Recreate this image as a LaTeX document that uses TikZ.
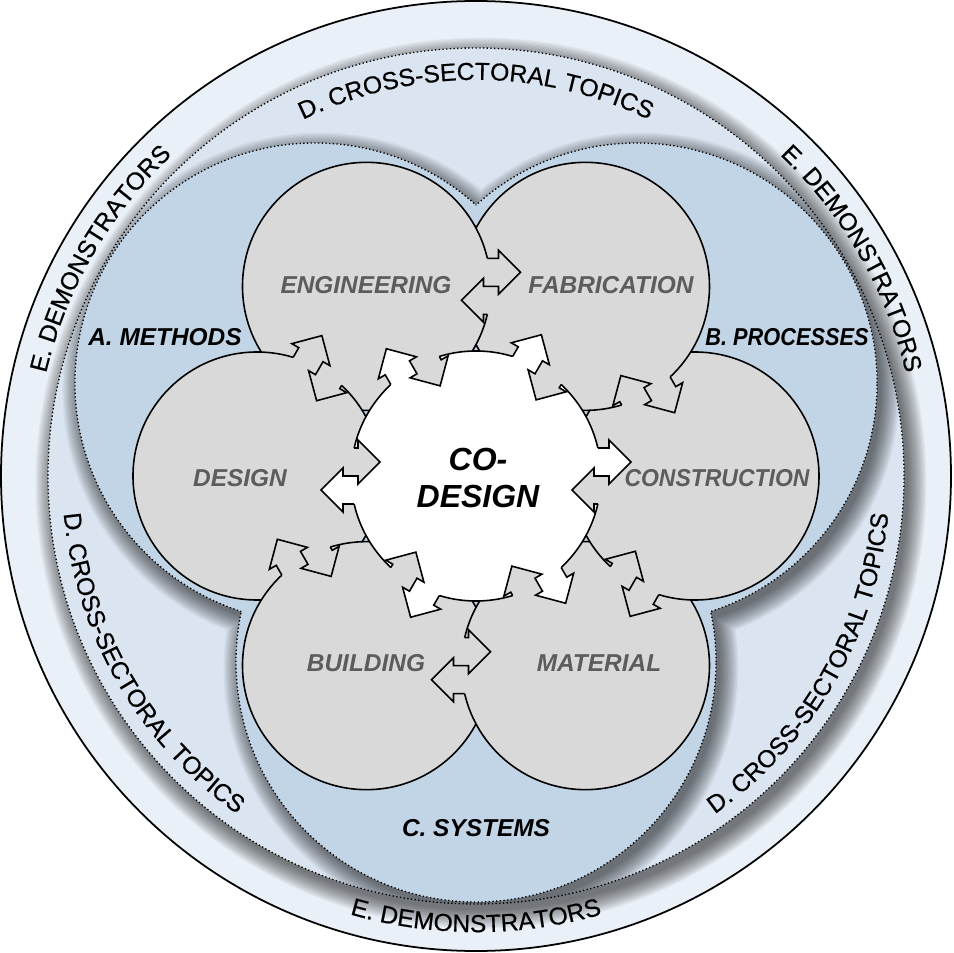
\documentclass[tikz,border=0pt]{standalone}
\usepackage{fontspec}
\usepackage{graphicx}
\newfontfamily\arial{Liberation Sans}
\newfontfamily\ringfont[FakeBold=0.5]{Liberation Sans}
\usetikzlibrary{calc,decorations.text}

\definecolor{ringE}{RGB}{234,240,247}
\definecolor{ringD}{RGB}{219,229,241}
\definecolor{lobe}{RGB}{194,213,231}
\definecolor{petal}{RGB}{217,217,217}
\definecolor{petaltext}{RGB}{92,92,92}

\newcommand{\labelfont}{\arial\fontsize{13.9}{16}\selectfont}
\newcommand{\arcfont}{\ringfont\fontsize{14}{16}\selectfont}

% pair of interlocking arrows on the rim of a circle
% #1 centre, #2 radius, #3 direction, #4 own fill, #5 other fill
\newcommand{\arrowpair}[5]{%
  \begin{scope}[shift={($(#1)+(#3:#2)$)}, rotate=#3]
    \pgfmathsetmacro{\gapx}{sqrt(#2*#2-28*28)-#2}
    \fill[#4] (-8,0) -- (-8,28) -- (8,28) -- (8,36) -- (30,14) -- (8,-8) -- (8,0) -- cycle;
    \fill[#5] (6,0) -- (6,-28) -- (-7,-28) -- (-7,-36) -- (-29,-14) -- (-7,8) -- (-7,0) -- cycle;
    \draw[edge] (\gapx,28) -- (8,28) -- (8,36) -- (30,14) -- (8,-8) -- (8,0) -- (-7,0)
      -- (-7,8) -- (-29,-14) -- (-7,-36) -- (-7,-28) -- (\gapx,-28);
  \end{scope}}

\begin{document}
\begin{tikzpicture}[
    x=0.02cm, y=0.02cm,
    edge/.style={draw=black, line width=0.9pt, line join=miter},
    petalbox/.style={fill=petal, draw=black, line width=0.9pt},
    dots/.style={draw=black, line width=0.75pt, dash pattern=on 0.75pt off 1.35pt},
    petallabel/.style={font=\labelfont\bfseries\itshape, text=petaltext},
    arealabel/.style={font=\labelfont\bfseries\itshape},
    ringtext/.style={decorate, decoration={text along path, text align=center, text={|\arcfont|#1}}}
]
    \useasboundingbox (-476,-477) rectangle (477,476);

    % Centres
    \coordinate (hub) at (0,0);
    \coordinate (tA) at (150:186);
    \coordinate (tB) at (30:186);
    \coordinate (tC) at (270:186);
    \coordinate (con) at (0:219);
    \coordinate (fab) at (60:219);
    \coordinate (eng) at (120:219);
    \coordinate (des) at (180:219);
    \coordinate (bld) at (240:219);
    \coordinate (mat) at (300:219);

    % E ring and shadow of D
    \fill[ringE] (hub) circle (475);
    \begin{scope}
        \clip (hub) circle (475);
        \foreach \k in {1,...,15}
            \fill[black, opacity=0.045] (5,-7) circle (426+1.3*\k);
    \end{scope}

    % D ring and shadow of the lobes
    \fill[ringD] (hub) circle (428);
    \draw[dots] (hub) circle (428);
    \begin{scope}
        \clip (hub) circle (428);
        \foreach \k in {1,...,15}
            \fill[black, opacity=0.045] ($(tA)+(5,-7)$) circle (238+1.3*\k)
                ($(tB)+(5,-7)$) circle (238+1.3*\k) ($(tC)+(5,-7)$) circle (238+1.3*\k);
    \end{scope}

    % Lobes A, B, C
    \fill[lobe] (tA) circle (240) (tB) circle (240) (tC) circle (240);
    \begin{scope}[even odd rule]
        \clip (-500,-500) rectangle (500,500) (tB) circle (240) (tC) circle (240);
        \draw[dots] (tA) circle (240);
    \end{scope}
    \begin{scope}[even odd rule]
        \clip (-500,-500) rectangle (500,500) (tA) circle (240) (tC) circle (240);
        \draw[dots] (tB) circle (240);
    \end{scope}
    \begin{scope}[even odd rule]
        \clip (-500,-500) rectangle (500,500) (tA) circle (240) (tB) circle (240);
        \draw[dots] (tC) circle (240);
    \end{scope}

    \draw[black, line width=1pt] (hub) circle (475);

    % Ring texts
    \path[ringtext={D. CROSS-SECTORAL TOPICS}] (160:396) arc[start angle=160, end angle=20, radius=396];
    \path[ringtext={D. CROSS-SECTORAL TOPICS}] (140:414) arc[start angle=140, end angle=280, radius=414];
    \path[ringtext={D. CROSS-SECTORAL TOPICS}] (260:414) arc[start angle=260, end angle=400, radius=414];
    \path[ringtext={E. DEMONSTRATORS}] (220:442) arc[start angle=220, end angle=80, radius=442];
    \path[ringtext={E. DEMONSTRATORS}] (100:442) arc[start angle=100, end angle=-40, radius=442];
    \path[ringtext={E. DEMONSTRATORS}] (200:456) arc[start angle=200, end angle=340, radius=456];

    \node[arealabel] (methods) at (-311,139) {A. METHODS};
    \node[arealabel] (processes) at (311,139) {\scalebox{0.89}[1]{B. PROCESSES}};
    \node[arealabel] (systems) at (0,-352) {C. SYSTEMS};

    % Petals (each one lies over its clockwise neighbour)
    \draw[petalbox] (eng) circle (124);
    \draw[petalbox] (des) circle (124);
    \draw[petalbox] (bld) circle (124);
    \draw[petalbox] (mat) circle (124);
    \draw[petalbox] (con) circle (124);
    \draw[petalbox] (fab) circle (124);
    \begin{scope}
        \clip (fab) circle (127);
        \draw[petalbox] (eng) circle (124);
    \end{scope}

    \arrowpair{eng}{124}{0}{petal}{petal}
    \arrowpair{fab}{124}{-60}{petal}{petal}
    \arrowpair{con}{124}{-120}{petal}{petal}
    \arrowpair{mat}{124}{180}{petal}{petal}
    \arrowpair{bld}{124}{120}{petal}{petal}
    \arrowpair{des}{124}{60}{petal}{petal}

    % Hub
    \draw[fill=white, draw=black, line width=0.9pt] (hub) circle (125);
    \arrowpair{hub}{125}{0}{white}{petal}
    \arrowpair{hub}{125}{60}{white}{petal}
    \arrowpair{hub}{125}{120}{white}{petal}
    \arrowpair{hub}{125}{180}{white}{petal}
    \arrowpair{hub}{125}{240}{white}{petal}
    \arrowpair{hub}{125}{300}{white}{petal}

    % Labels
    \node[petallabel] (englabel) at (-110,191) {ENGINEERING};
    \node[petallabel] (fablabel) at (135,191) {FABRICATION};
    \node[petallabel] (deslabel) at (-236,-2) {DESIGN};
    \node[petallabel] (conlabel) at (241,-2) {\scalebox{0.94}[1]{CONSTRUCTION}};
    \node[petallabel] (bldlabel) at (-110,-187) {BUILDING};
    \node[petallabel] (matlabel) at (123,-187) {MATERIAL};
    \node[font=\arial\fontsize{18.2}{21.6}\selectfont\bfseries\itshape, align=center] (codesign) at (2,-2) {CO-\\DESIGN};
\end{tikzpicture}
\end{document}
